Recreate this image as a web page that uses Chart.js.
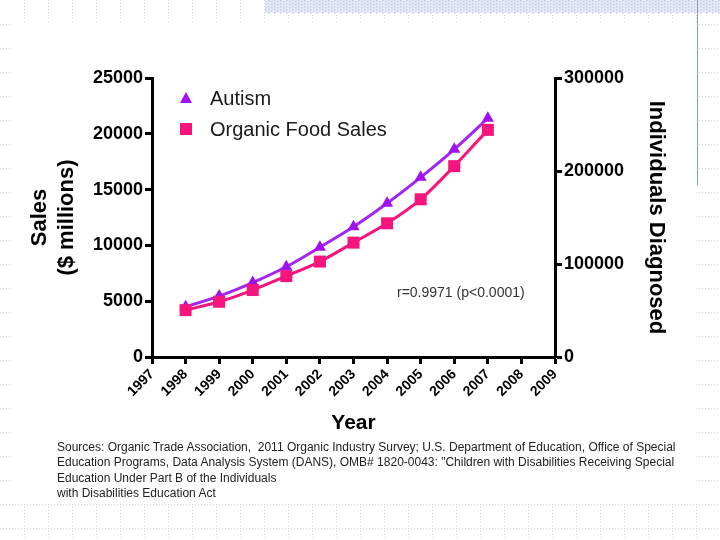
<!DOCTYPE html>
<html>
<head>
<meta charset="utf-8">
<script src="https://cdn.jsdelivr.net/npm/chart.js@4/dist/chart.umd.min.js"></script>
<style>
	body { margin: 0; background: #fff; }
	#wrap { position: relative; width: 720px; height: 540px; font-family: "Liberation Sans", Arial, sans-serif; }
	#chart { position: absolute; left: 0; top: 0; }
	.legend { position: absolute; left: 178px; font-size: 20px; color: #1a1a1a; line-height: 24px; }
	.legend span { position: absolute; left: 32px; white-space: nowrap; }
	.tri { position: absolute; left: 2px; top: 6px; width: 0; height: 0; border-left: 6px solid transparent; border-right: 6px solid transparent; border-bottom: 11px solid #a010f0; }
	.sq { position: absolute; left: 2px; top: 6px; width: 12px; height: 12px; background: #f5157d; }
	#note { position: absolute; left: 397px; top: 284px; font-size: 14px; color: #333; white-space: nowrap; }
	#sources { position: absolute; left: 57px; top: 440px; font-size: 12px; line-height: 15.3px; color: #222; white-space: nowrap; }
</style>
</head>
<body>
<div id="wrap">
	<canvas id="chart" width="720" height="540"></canvas>
	<div class="legend" style="top:86px"><div class="tri"></div><span>Autism</span></div>
	<div class="legend" style="top:117px"><div class="sq"></div><span>Organic Food Sales</span></div>
	<div id="note">r=0.9971 (p&lt;0.0001)</div>
	<div id="sources">Sources: Organic Trade Association,&nbsp; 2011 Organic Industry Survey; U.S. Department of Education, Office of Special<br>Education Programs, Data Analysis System (DANS), OMB# 1820-0043: "Children with Disabilities Receiving Special<br>Education Under Part B of the Individuals<br>with Disabilities Education Act</div>
</div>
<script>
// values
var years = [1998, 1999, 2000, 2001, 2002, 2003, 2004, 2005, 2006, 2007];
var organicSales = [4200, 4950, 6000, 7250, 8550, 10250, 11980, 14130, 17100, 20350];
var autismCases = [54000, 65500, 80000, 97000, 118000, 140000, 165300, 193200, 223300, 256700];
var salesTicks = [0, 5000, 10000, 15000, 20000, 25000];
var diagnosedTicks = [0, 100000, 200000, 300000];

var tickFont = { family: "Liberation Sans, Arial", size: 18, weight: 'bold' };
var titleFont = { family: "Liberation Sans, Arial", size: 22, weight: 'bold' };

function toPoints(values) {
	var pts = [];
	for(var i = 0; i < years.length; i++) {
		pts.push({ x: years[i], y: values[i] });
	}
	return pts;
}

// slide background: dotted grid in the margins, hatched band, blue rule
var slideBackground = {
	id: 'slideBackground',
	beforeDraw: function(chart) {
		var ctx = chart.ctx;
		ctx.save();
		ctx.fillStyle = '#fff';
		ctx.fillRect(0, 0, 720, 540);
		ctx.strokeStyle = '#d2d2d2';
		ctx.lineWidth = 1;
		ctx.setLineDash([1, 2]);
		for(var x = 24.5; x < 720; x += 24) {
			ctx.beginPath(); ctx.moveTo(x, 0); ctx.lineTo(x, 540); ctx.stroke();
		}
		for(var y = 24.5; y < 540; y += 24) {
			ctx.beginPath(); ctx.moveTo(0, y); ctx.lineTo(720, y); ctx.stroke();
		}
		ctx.setLineDash([]);
		ctx.fillStyle = '#fff';
		ctx.fillRect(12, 23, 685, 480);
		// hatched band
		ctx.fillStyle = '#e4e9f5';
		ctx.fillRect(265, 0, 455, 13);
		ctx.fillStyle = '#c3cfea';
		for(var hx = 265; hx < 720; hx += 3) {
			for(var hy = (hx % 2); hy < 13; hy += 3) {
				ctx.fillRect(hx, hy, 1.5, 1.5);
			}
		}
		ctx.strokeStyle = '#8a98c8';
		ctx.beginPath(); ctx.moveTo(697.5, 0); ctx.lineTo(697.5, 185); ctx.stroke();
		ctx.restore();
	}
};

var axisCommon = {
	grid: { display: true, drawOnChartArea: false, drawTicks: true, tickLength: 7, tickWidth: 3, tickColor: '#000' },
	border: { display: true, color: '#000', width: 3 }
};

new Chart(document.getElementById('chart').getContext('2d'), {
	type: 'line',
	data: {
		datasets: [
			{
				label: 'Autism',
				data: toPoints(autismCases),
				yAxisID: 'y2',
				borderColor: '#a326f0',
				backgroundColor: '#a010f0',
				borderWidth: 3,
				pointStyle: 'triangle',
				pointRadius: 7,
				pointBorderWidth: 0,
				tension: 0.3,
				order: 1
			},
			{
				label: 'Organic Food Sales',
				data: toPoints(organicSales),
				yAxisID: 'y',
				borderColor: '#f5157d',
				backgroundColor: '#f5157d',
				borderWidth: 3,
				pointStyle: 'rect',
				pointRadius: 8.5,
				pointBorderWidth: 0,
				tension: 0.3,
				order: 0
			}
		]
	},
	options: {
		responsive: false,
		animation: false,
		devicePixelRatio: 1,
		layout: { padding: { left: 20, right: 40, top: 78, bottom: 100 } },
		plugins: { legend: { display: false }, tooltip: { enabled: false } },
		scales: {
			x: Object.assign({
				type: 'linear',
				min: 1997,
				max: 2009,
				afterBuildTicks: function(scale) {
					scale.ticks = [];
					for(var v = 1997; v <= 2009; v++) scale.ticks.push({ value: v });
				},
				afterFit: function(scale) { scale.height = 540 - 357 - 100; },
				ticks: {
					color: '#000', font: { family: "Liberation Sans, Arial", size: 14, weight: 'bold' },
					minRotation: 45, maxRotation: 45, padding: 2,
					callback: function(v) { return String(v); }
				},
				title: { display: true, text: 'Year', color: '#000', font: { family: "Liberation Sans, Arial", size: 21, weight: 'bold' }, padding: { top: 0, bottom: 4 } }
			}, axisCommon),
			y: Object.assign({
				position: 'left',
				min: 0,
				max: 25000,
				afterBuildTicks: function(scale) {
					scale.ticks = salesTicks.map(function(v) { return { value: v }; });
				},
				afterFit: function(scale) { scale.width = 152 - 20; },
				ticks: { color: '#000', font: tickFont, padding: 2, callback: function(v) { return String(v); } },
				title: { display: true, text: ['Sales', '($ millions)'], color: '#000', font: titleFont, padding: { top: 7, bottom: 0 } }
			}, axisCommon),
			y2: Object.assign({
				position: 'right',
				min: 0,
				max: 300000,
				afterBuildTicks: function(scale) {
					scale.ticks = diagnosedTicks.map(function(v) { return { value: v }; });
				},
				afterFit: function(scale) { scale.width = 720 - 555 - 40; },
				ticks: { color: '#000', font: tickFont, padding: 2, callback: function(v) { return String(v); } },
				title: { display: true, text: 'Individuals Diagnosed', color: '#000', font: titleFont, padding: { top: 11, bottom: 0 } }
			}, axisCommon)
		}
	},
	plugins: [slideBackground]
});
</script>
</body>
</html>
